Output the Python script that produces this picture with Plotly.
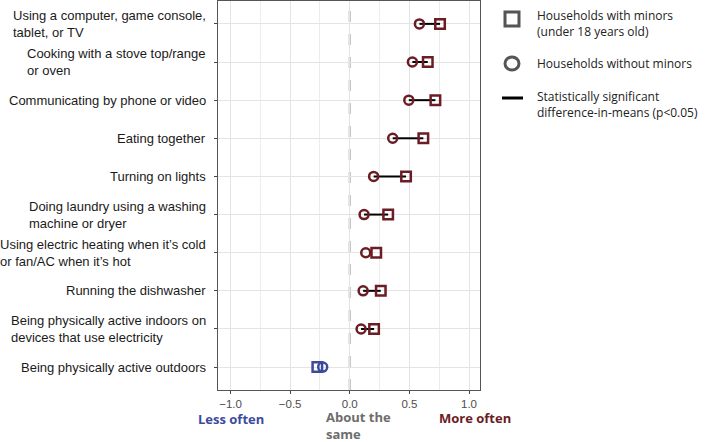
import plotly.graph_objects as go

# ---------------- data (top to bottom) ----------------
categories = [
    "Using a computer, game console,<br>tablet, or TV",
    "Cooking with a stove top/range<br>or oven",
    "Communicating by phone or video",
    "Eating together",
    "Turning on lights",
    "Doing laundry using a washing<br>machine or dryer",
    "Using electric heating when it\u2019s cold<br>or fan/AC when it\u2019s hot",
    "Running the dishwasher",
    "Being physically active indoors on<br>devices that use electricity",
    "Being physically active outdoors",
]
with_minors = [0.757, 0.654, 0.718, 0.617, 0.472, 0.322, 0.222, 0.260, 0.204, -0.272]
without_minors = [0.584, 0.525, 0.495, 0.360, 0.200, 0.120, 0.134, 0.112, 0.095, -0.227]
significant = [True, True, True, True, True, True, False, True, True, False]
x_ticks = [-1.0, -0.5, 0.0, 0.5, 1.0]
x_tick_labels = ["\u22121.0", "\u22120.5", "0.0", "0.5", "1.0"]

RED = "#6b1c24"
BLUE = "#3c4b9c"
GREY_TXT = "#6d6d6d"

n = len(categories)
ypos = [n - 1 - i for i in range(n)]  # top category highest
colors = [RED if v > 0 else BLUE for v in with_minors]

fig = go.Figure()

# significance segments
seg_x, seg_y = [], []
for i in range(n):
    if significant[i]:
        seg_x += [without_minors[i], with_minors[i], None]
        seg_y += [ypos[i], ypos[i], None]
fig.add_trace(go.Scatter(x=seg_x, y=seg_y, mode="lines",
                         line=dict(color="black", width=2), showlegend=False,
                         hoverinfo="skip"))

fig.add_trace(go.Scatter(x=with_minors, y=ypos, mode="markers",
                         marker=dict(symbol="square-open", size=9.5, color=colors,
                                     line=dict(width=2.5, color=colors)),
                         showlegend=False))
fig.add_trace(go.Scatter(x=without_minors, y=ypos, mode="markers",
                         marker=dict(symbol="circle-open", size=9, color=colors,
                                     line=dict(width=2.5, color=colors)),
                         showlegend=False))

# dashed zero line
fig.add_shape(type="line", x0=0, x1=0, y0=0, y1=1, xref="x", yref="paper",
              line=dict(color="#c8c8c8", width=2.5, dash="11px,12px"), layer="below")

annotations = []
# y labels (left aligned lines, right aligned block)
for i in range(n):
    annotations.append(dict(x=0, y=ypos[i], xref="paper", yref="y", text=categories[i],
                            xanchor="right", yanchor="middle", align="left",
                            xshift=-10, showarrow=False,
                            font=dict(family="Liberation Sans, Arial", size=13, color="#1a1a1a")))

# bottom labels
L, R, T, B = 218, 225, 1, 52
PW, PH = 705 - L - R, 442 - T - B


def px(xp):
    return (xp - L) / PW


def py(yp):
    return (442 - B - yp) / PH


bold = "Open Sans"
annotations.append(dict(x=px(230.5), y=py(418.5), xref="paper", yref="paper", text="<b>Less often</b>",
                        xanchor="center", yanchor="middle", showarrow=False,
                        font=dict(family=bold, size=13, color=BLUE)))
annotations.append(dict(x=px(324), y=py(425.5), xref="paper", yref="paper", text="<b>About the<br>same</b>",
                        xanchor="left", yanchor="middle", align="left", showarrow=False,
                        font=dict(family=bold, size=13, color=GREY_TXT)))
annotations.append(dict(x=px(474.5), y=py(418), xref="paper", yref="paper", text="<b>More often</b>",
                        xanchor="center", yanchor="middle", showarrow=False,
                        font=dict(family=bold, size=13, color=RED)))

# legend (manual)
leg_font = dict(family="Open Sans", size=12, color="#222")
annotations.append(dict(x=px(535), y=py(23), xref="paper", yref="paper",
                        text="Households with minors<br>(under 18 years old)",
                        xanchor="left", yanchor="middle", align="left", showarrow=False, font=leg_font))
annotations.append(dict(x=px(535), y=py(63), xref="paper", yref="paper",
                        text="Households without minors",
                        xanchor="left", yanchor="middle", align="left", showarrow=False, font=leg_font))
annotations.append(dict(x=px(535), y=py(105), xref="paper", yref="paper",
                        text="Statistically significant<br>difference-in-means (p<0.05)",
                        xanchor="left", yanchor="middle", align="left", showarrow=False, font=leg_font))

shapes_leg = [
    dict(type="rect", x0=px(505), x1=px(519), y0=py(26), y1=py(12), xref="paper", yref="paper",
         line=dict(color="#555555", width=3)),
    dict(type="circle", x0=px(505), x1=px(519), y0=py(70), y1=py(57), xref="paper", yref="paper",
         line=dict(color="#555555", width=3)),
    dict(type="line", x0=px(502), x1=px(523), y0=py(98), y1=py(98), xref="paper", yref="paper",
         line=dict(color="black", width=3)),
]
for s in shapes_leg:
    fig.add_shape(**s)

fig.update_layout(
    width=705, height=442,
    margin=dict(l=L, r=R, t=T, b=B),
    plot_bgcolor="white", paper_bgcolor="white",
    annotations=annotations,
    showlegend=False,
)
fig.update_xaxes(range=[-1.105, 1.092], tickvals=x_ticks, ticktext=x_tick_labels,
                 showgrid=True, gridcolor="#e4e4e4", gridwidth=1,
                 minor=dict(tickvals=[-0.75, -0.25, 0.25, 0.75], showgrid=True,
                            gridcolor="#ececec", gridwidth=1, ticks=""),
                 zeroline=False, showline=True, linecolor="#555555", linewidth=1, mirror=True,
                 ticks="outside", ticklen=3, tickcolor="#444",
                 tickfont=dict(family="Liberation Sans, Arial", size=11.5, color="#4d4d4d"))
fig.update_yaxes(range=[-0.6, n - 0.4], tickvals=ypos, showticklabels=False,
                 showgrid=True, gridcolor="#e4e4e4", gridwidth=1,
                 zeroline=False, showline=True, linecolor="#555555", linewidth=1, mirror=True,
                 ticks="outside", ticklen=3, tickcolor="#444")

fig.write_html("out.html", config={"displayModeBar": False},
               post_script="document.body.style.margin='0px';document.body.style.overflow='hidden';")
